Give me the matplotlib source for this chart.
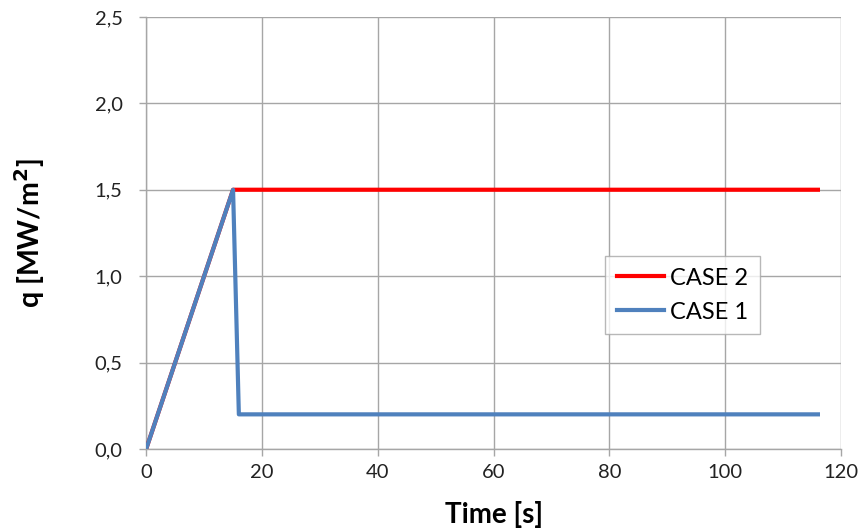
import matplotlib.pyplot as plt
from matplotlib.ticker import FuncFormatter

# Data
case2_t = [0, 15, 116]
case2_q = [0, 1.5, 1.5]
case1_t = [0, 15, 16, 116]
case1_q = [0, 1.5, 0.2, 0.2]

plt.rcParams['font.family'] = ['Lato', 'DejaVu Sans']

fig = plt.figure(figsize=(8.6, 5.3), dpi=100)
ax = fig.add_axes([0.170, 0.153, 0.808, 0.815])

l2, = ax.plot(case2_t, case2_q, color='#FF0000', linewidth=3, label='CASE 2', zorder=3)
l1, = ax.plot(case1_t, case1_q, color='#4F81BD', linewidth=3, label='CASE 1', zorder=4)

ax.set_xlim(0, 120)
ax.set_ylim(0, 2.5)
ax.set_xticks(range(0, 121, 20))
ax.set_yticks([0, 0.5, 1.0, 1.5, 2.0, 2.5])
ax.yaxis.set_major_formatter(FuncFormatter(lambda v, p: f'{v:.1f}'.replace('.', ',')))

ax.grid(True, color='#a6a6a6', linewidth=1)
ax.set_axisbelow(True)
for s in ['top', 'right']:
    ax.spines[s].set_visible(False)
for s in ['left', 'bottom']:
    ax.spines[s].set_color('#a6a6a6')
    ax.spines[s].set_linewidth(1)
ax.tick_params(axis='both', colors='#a6a6a6', labelcolor='#222222',
               labelsize=14.5, length=5, width=1)
ax.tick_params(axis='x', pad=6)
ax.tick_params(axis='y', pad=12)

ax.set_xlabel('Time [s]', fontsize=20, fontweight='bold', labelpad=14)
ax.set_ylabel('q [MW/m$^\\mathbf{2}$]', fontsize=20.5, fontweight='bold', labelpad=34)

leg = ax.legend(handles=[l2, l1], loc='upper left', bbox_to_anchor=(0.660, 0.447),
                fontsize=17, frameon=True, fancybox=False, borderaxespad=0,
                handlelength=2.0, borderpad=0.5, labelspacing=0.55, handletextpad=0.25)
leg.get_frame().set_edgecolor('#a6a6a6')
leg.get_frame().set_linewidth(1)

fig.savefig('out.png', dpi=100)
